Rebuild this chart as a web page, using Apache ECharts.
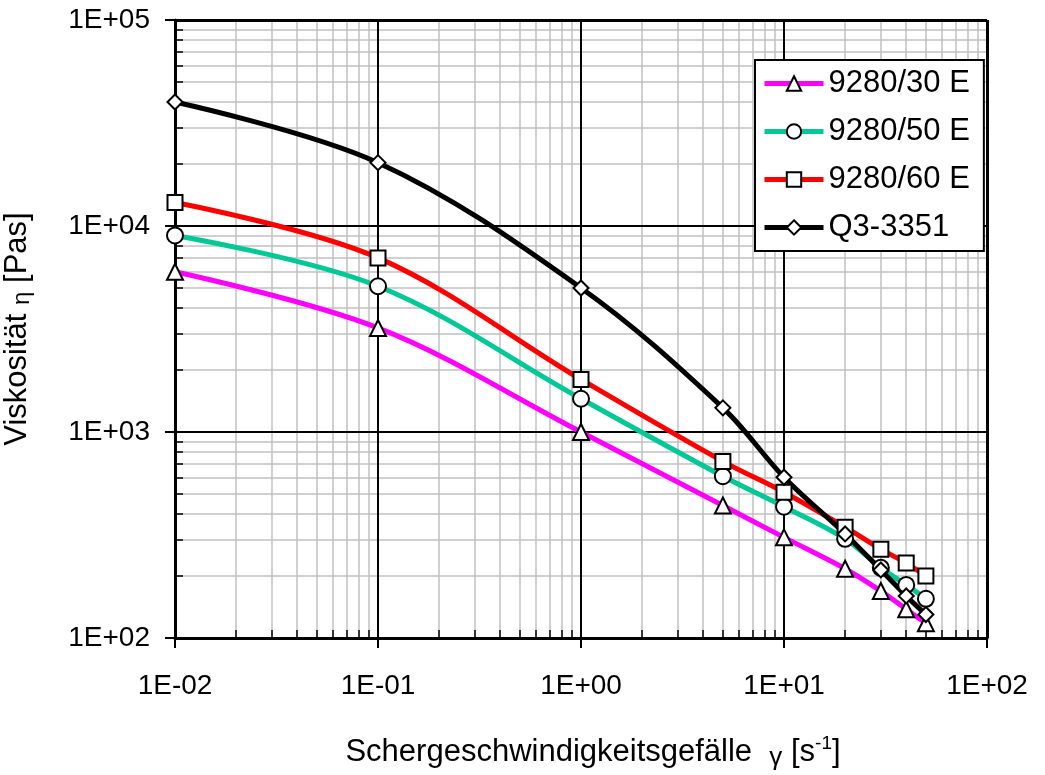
<!DOCTYPE html>
<html>
<head>
<meta charset="utf-8">
<script src="https://cdn.jsdelivr.net/npm/echarts@6/dist/echarts.min.js"></script>
<style>html,body{margin:0;padding:0;background:#fff;}#c{width:1045px;height:775px;}</style>
</head>
<body>
<div id="c"></div>
<script>
// ---- data ----
const shearRate = [0.01, 0.1, 1, 5, 10, 20, 30, 40, 50];
const visc9280_30 = [6000, 3200, 1000, 440, 308, 217, 169, 138, 118];
const visc9280_50 = [9000, 5100, 1450, 610, 434, 303, 219, 181, 155];
const visc9280_60 = [13000, 7000, 1800, 720, 510, 345, 270, 231, 200];
const viscQ3_3351 = [40000, 20300, 5000, 1310, 603, 320, 214, 160, 130];
const seriesNames = ['9280/30 E', '9280/50 E', '9280/60 E', 'Q3-3351'];
const xMin = 0.01, xMax = 100, yMin = 100, yMax = 100000;

function minorValues(lo, hi) {
  const out = [];
  for (let e = Math.round(Math.log10(lo)); e < Math.round(Math.log10(hi)); e++) {
    for (let k = 2; k <= 9; k++) out.push(+(k * Math.pow(10, e)).toPrecision(6));
  }
  return out;
}
function expLabel(v) {
  const e = Math.round(Math.log10(v));
  const a = Math.abs(e);
  return '1E' + (e < 0 ? '-' : '+') + (a < 10 ? '0' + a : a);
}
function pairs(ys) { return shearRate.map((x, i) => [x, ys[i]]); }

const font = 'Liberation Sans, Arial, sans-serif';
const chart = echarts.init(document.getElementById('c'));

function mkSeries(name, ys, color, symbol, size, width) {
  return {
    name, type: 'line', data: pairs(ys), xAxisIndex: 1, yAxisIndex: 1,
    smooth: 0.35, symbol, symbolSize: size, showAllSymbol: true,
    lineStyle: { color, width },
    itemStyle: { color: '#fff', borderColor: '#000', borderWidth: 2 },
    emphasis: { disabled: true }, z: 5
  };
}

chart.setOption({
  animation: false,
  backgroundColor: '#fff',
  grid: { left: 175, right: 58, top: 20, bottom: 137, show: false, containLabel: false, outerBoundsMode: 'none' },
  legend: {
    orient: 'vertical', left: 755, top: 60,
    padding: [8, 14, 8, 7],
    backgroundColor: '#fff', borderColor: '#000', borderWidth: 2,
    itemWidth: 59, itemHeight: 18, itemGap: 17,
    textStyle: { fontFamily: font, fontSize: 31, color: '#000' },
    lineStyle: { width: 5 },
    data: seriesNames
  },
  xAxis: [
    { // minor grid + inside ticks
      type: 'log', logBase: 10, min: xMin, max: xMax, z: 0, position: 'bottom', offset: 0,
      axisLine: { show: false }, axisLabel: { show: false },
      axisTick: { show: true, inside: true, length: 8, customValues: minorValues(xMin, xMax), lineStyle: { color: '#000', width: 1.5 } },
      splitLine: { show: true, lineStyle: { color: '#c0c0c0', width: 1.5 } }
    },
    { // major
      type: 'log', logBase: 10, min: xMin, max: xMax, z: 2, position: 'bottom', offset: 0,
      name: '{a|Schergeschwindigkeitsgefälle  }{g|γ}{b| [s}{s|-1}{b|]}',
      nameLocation: 'middle', nameGap: 96,
      nameTextStyle: {
        fontFamily: font, fontSize: 31, color: '#000',
        rich: {
          a: { fontFamily: font, fontSize: 31, color: '#000', padding: [0, 0, 0, 24] },
          g: { fontFamily: font, fontSize: 26, color: '#000', padding: [10, 0, 0, 0] },
          b: { fontFamily: font, fontSize: 31, color: '#000' },
          s: { fontFamily: font, fontSize: 19, color: '#000', padding: [0, 0, 18, 0] }
        }
      },
      axisLine: { show: true, lineStyle: { color: '#000', width: 3 } },
      axisTick: { show: true, inside: false, length: 10, lineStyle: { color: '#000', width: 2 } },
      axisLabel: { formatter: expLabel, margin: 34, fontFamily: font, fontSize: 28, color: '#000' },
      splitLine: { show: true, lineStyle: { color: '#000', width: 2 } },
      minorTick: { show: false }, minorSplitLine: { show: false }
    }
  ],
  yAxis: [
    {
      type: 'log', logBase: 10, min: yMin, max: yMax, z: 0, position: 'left', offset: 0,
      axisLine: { show: false }, axisLabel: { show: false },
      axisTick: { show: true, inside: true, length: 8, customValues: minorValues(yMin, yMax), lineStyle: { color: '#000', width: 1.5 } },
      splitLine: { show: true, lineStyle: { color: '#c0c0c0', width: 1.5 } }
    },
    {
      type: 'log', logBase: 10, min: yMin, max: yMax, z: 2, position: 'left', offset: 0,
      name: 'Viskosität {e|η} [Pas]',
      nameLocation: 'middle', nameGap: 141, nameRotate: 90,
      nameTextStyle: {
        fontFamily: font, fontSize: 31, color: '#000',
        rich: { e: { fontFamily: font, fontSize: 24, color: '#000', padding: [9, 0, 0, 0] } }
      },
      axisLine: { show: true, lineStyle: { color: '#000', width: 3 } },
      axisTick: { show: true, inside: false, length: 10, lineStyle: { color: '#000', width: 2 } },
      axisLabel: { formatter: expLabel, margin: 25, fontFamily: font, fontSize: 28, color: '#000' },
      splitLine: { show: true, lineStyle: { color: '#000', width: 2 } }
    }
  ],
  series: [
    mkSeries(seriesNames[0], visc9280_30, '#FF00FF', 'triangle', 16, 5),
    mkSeries(seriesNames[1], visc9280_50, '#00C896', 'circle', 16, 5),
    mkSeries(seriesNames[2], visc9280_60, '#FF0000', 'rect', 15, 5),
    mkSeries(seriesNames[3], viscQ3_3351, '#000000', 'diamond', 15, 5),
    { // frame top/right
      type: 'line', xAxisIndex: 1, yAxisIndex: 1, data: [], silent: true,
      markLine: {
        silent: true, symbol: 'none', label: { show: false },
        lineStyle: { color: '#000', width: 3, type: 'solid' },
        data: [{ xAxis: xMax }, { yAxis: yMax }]
      }
    }
  ]
});
</script>
</body>
</html>
